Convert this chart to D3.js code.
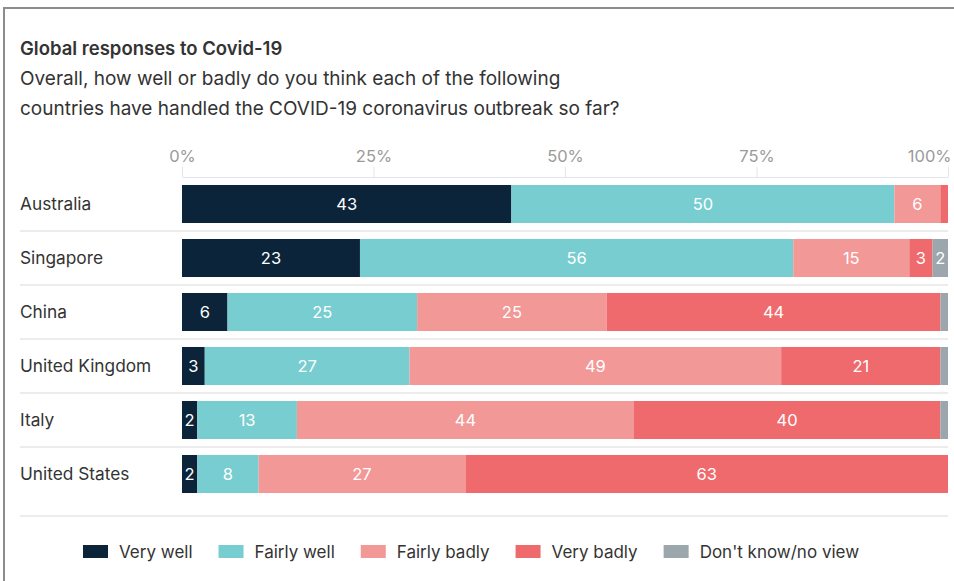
<!DOCTYPE html>
<html>
<head>
<meta charset="utf-8">
<script src="https://cdn.jsdelivr.net/npm/d3@7"></script>
<style>
  html, body { margin: 0; padding: 0; background: #fff; }
  svg { display: block; font-family: Inter, "Open Sans", sans-serif; }
</style>
</head>
<body>
<svg id="chart" width="954" height="581"></svg>
<script>
// Survey results: share of respondents (%) per country
const countries = ["Australia", "Singapore", "China", "United Kingdom", "Italy", "United States"];
const veryWell    = [43, 23,  6,  3,  2,  2];
const fairlyWell  = [50, 56, 25, 27, 13,  8];
const fairlyBadly = [ 6, 15, 25, 49, 44, 27];
const veryBadly   = [ 1,  3, 44, 21, 40, 63];
const dontKnow    = [ 0,  2,  1,  1,  1,  0];

const seriesNames = ["Very well", "Fairly well", "Fairly badly", "Very badly", "Don't know/no view"];
const seriesValues = [veryWell, fairlyWell, fairlyBadly, veryBadly, dontKnow];
const colors = ["#0c2439", "#78cdd1", "#f29896", "#ef6a6d", "#9ba6ad"];
const tickValues = [0, 0.25, 0.5, 0.75, 1];
const tickLabels = ["0%", "25%", "50%", "75%", "100%"];

const svg = d3.select("#chart");

// rows for the stack
const rows = countries.map((c, i) => {
  const r = { country: c };
  seriesNames.forEach((s, j) => r[s] = seriesValues[j][i]);
  return r;
});
const stacked = d3.stack().keys(seriesNames).offset(d3.stackOffsetExpand)(rows);

const x = d3.scaleLinear().domain([0, 1]).range([182, 948]);
const y = d3.scaleBand().domain(countries).range([177, 501])
  .paddingInner(0.296).paddingOuter(0.148);
const color = d3.scaleOrdinal().domain(seriesNames).range(colors);

// frame
svg.append("path")
  .attr("d", "M4,581V8H954")
  .attr("fill", "none").attr("stroke", "#8c8c8c").attr("stroke-width", 2);

// titles
svg.append("text").attr("x", 20).attr("y", 55)
  .attr("font-size", 18.5).attr("font-weight", 600).attr("fill", "#333")
  .text("Global responses to Covid-19");
svg.append("text").attr("x", 20).attr("y", 85)
  .attr("font-size", 19).attr("fill", "#333")
  .text("Overall, how well or badly do you think each of the following");
svg.append("text").attr("x", 20).attr("y", 115)
  .attr("font-size", 19).attr("fill", "#333")
  .text("countries have handled the COVID-19 coronavirus outbreak so far?");

// top axis
const axis = svg.append("g").attr("transform", "translate(0,177)")
  .call(d3.axisTop(x).tickValues(tickValues).tickFormat((d, i) => tickLabels[i])
    .tickSizeInner(10).tickSizeOuter(0).tickPadding(5));
axis.select(".domain").attr("stroke", "#e2e5ea");
axis.selectAll(".tick line").attr("stroke", "#e2e5ea");
axis.selectAll(".tick text").attr("fill", "#9a9a9a").attr("font-size", 16.5)
  .attr("font-family", "Inter, sans-serif")
  .filter(d => d === 1).attr("text-anchor", "end").attr("dx", 3);

// row separators
const step = y.step();
svg.append("g").selectAll("line")
  .data(countries.slice(1))
  .join("line")
  .attr("x1", 20).attr("x2", 948)
  .attr("y1", d => y(d) - y.paddingInner() * step / 2)
  .attr("y2", d => y(d) - y.paddingInner() * step / 2)
  .attr("stroke", "#e6e6e6").attr("stroke-width", 1.5);
svg.append("line").attr("x1", 20).attr("x2", 948).attr("y1", 516).attr("y2", 516)
  .attr("stroke", "#e6e6e6").attr("stroke-width", 1.5);

// country labels
svg.append("g").selectAll("text")
  .data(countries)
  .join("text")
  .attr("x", 20).attr("y", d => y(d) + y.bandwidth() / 2 + 6)
  .attr("font-size", 17.3).attr("fill", "#333")
  .text(d => d);

// bars
const layers = svg.append("g").selectAll("g")
  .data(stacked)
  .join("g")
  .attr("fill", d => color(d.key));

layers.selectAll("rect")
  .data(d => d)
  .join("rect")
  .attr("x", d => x(d[0]))
  .attr("y", d => y(d.data.country))
  .attr("width", d => x(d[1]) - x(d[0]))
  .attr("height", y.bandwidth());

// value labels
stacked.forEach(layer => {
  svg.append("g").selectAll("text")
    .data(layer.filter(d => d.data[layer.key] >= 2))
    .join("text")
    .attr("x", d => (x(d[0]) + x(d[1])) / 2)
    .attr("y", d => y(d.data.country) + y.bandwidth() / 2 + 6)
    .attr("text-anchor", "middle")
    .attr("font-size", 16.5).attr("fill", "#fff")
    .text(d => d.data[layer.key]);
});

// legend
const legend = svg.append("g");
let lx = 83;
seriesNames.forEach((s, i) => {
  legend.append("rect").attr("x", lx).attr("y", 545).attr("width", 25).attr("height", 13)
    .attr("fill", colors[i]);
  const t = legend.append("text").attr("x", lx + 36).attr("y", 558)
    .attr("font-size", 17).attr("fill", "#333").text(s);
  lx += 36 + t.node().getComputedTextLength() + 26;
});
</script>
</body>
</html>
